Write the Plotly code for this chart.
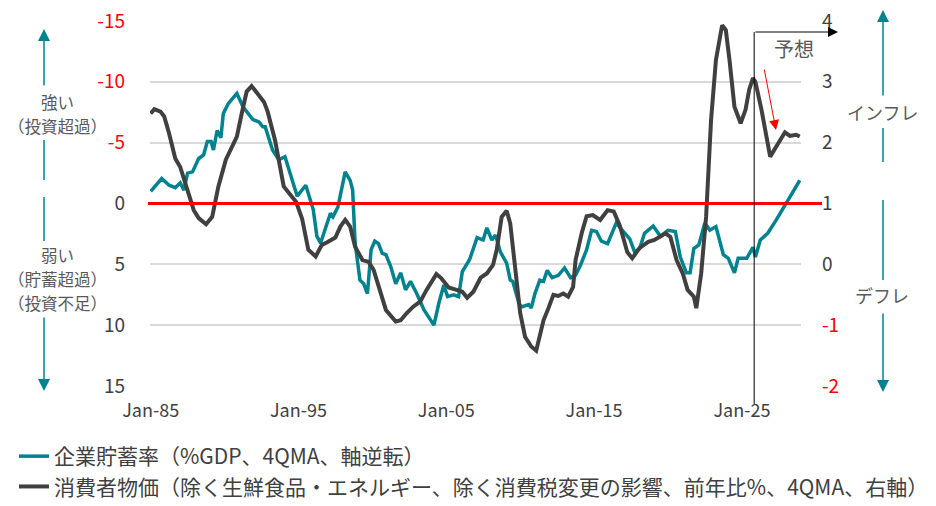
import plotly.graph_objects as go

# 企業貯蓄率（%GDP、4QMA、軸逆転） - left axis, reversed
saving_dates = [
    "1985-01", "1985-10", "1986-04", "1986-09", "1987-01", "1987-04", "1987-07", "1987-11",
    "1988-04", "1988-08", "1988-11", "1989-02", "1989-04", "1989-07", "1989-10", "1989-12",
    "1990-04", "1990-11", "1991-04", "1991-12", "1992-05", "1992-08", "1992-10", "1993-04",
    "1993-09", "1994-02", "1994-12", "1995-07", "1996-01", "1996-04", "1996-07", "1997-03",
    "1997-05", "1997-09", "1998-03", "1998-07", "1998-09", "1998-11", "1999-03", "1999-06",
    "1999-09", "1999-12", "2000-03", "2000-06", "2000-09", "2000-12", "2001-04", "2001-08",
    "2001-12", "2002-04", "2002-08", "2003-01", "2003-07", "2004-03", "2004-07", "2004-11",
    "2005-02", "2005-07", "2005-11", "2006-02", "2006-08", "2007-02", "2007-07", "2007-10",
    "2008-02", "2008-05", "2008-09", "2009-02", "2009-05", "2009-07", "2009-12", "2010-02",
    "2010-08", "2010-10", "2011-01", "2011-05", "2011-08", "2011-11", "2012-03", "2012-08",
    "2013-01", "2013-06", "2013-10", "2014-02", "2014-07", "2014-11", "2015-03", "2015-07",
    "2015-12", "2016-07", "2016-12", "2017-06", "2017-10", "2018-02", "2018-06", "2019-01",
    "2019-07", "2020-01", "2020-07", "2020-11", "2021-04", "2021-07", "2021-10", "2022-02",
    "2022-07", "2022-11", "2023-04", "2023-10", "2024-02", "2024-07", "2024-10", "2025-05",
    "2025-10", "2025-12", "2026-04", "2026-10", "2027-05", "2028-01", "2028-12",
]
saving_rate = [
    -1.0, -2.05, -1.5, -1.3, -1.7, -1.1, -2.5, -2.6,
    -3.7, -4.0, -5.1, -5.1, -4.4, -6.0, -5.4, -7.4,
    -8.2, -9.05, -7.95, -6.9, -6.7, -6.3, -6.3, -4.4,
    -3.6, -3.85, -0.6, -1.5, 0.5, 2.7, 3.25, 0.8,
    1.1, 0.3, -2.6, -1.9, -1.1, 3.25, 6.3, 6.6,
    7.4, 3.8, 3.1, 3.3, 4.1, 4.2, 5.2, 6.6,
    5.7, 7.1, 6.4, 7.4, 8.75, 10.0, 8.2, 6.7,
    7.65, 7.5, 7.65, 5.6, 4.6, 2.8, 3.0, 2.0,
    3.0, 2.6, 4.0, 4.9, 6.3, 6.4, 8.2, 8.5,
    8.3, 8.6, 7.4, 6.3, 6.4, 5.5, 6.1, 5.9,
    5.3, 6.1, 5.9, 5.05, 3.8, 2.2, 2.3, 3.1,
    3.3, 1.6, 2.2, 2.9, 4.0, 3.7, 2.45, 1.85,
    2.7, 2.2, 2.3, 4.4, 5.7, 5.7, 3.7, 3.4,
    1.6, 2.2, 1.9, 4.2, 4.5, 5.7, 4.5, 4.5,
    3.6, 4.4, 3.0, 2.45, 1.35, 0.0, -1.9,
]

# 消費者物価（除く生鮮食品・エネルギー…、前年比%、4QMA、右軸）
cpi_dates = [
    "1985-01", "1985-04", "1985-09", "1985-12", "1986-04", "1986-09", "1987-01", "1987-05",
    "1987-12", "1988-04", "1988-10", "1989-03", "1989-08", "1990-02", "1990-07", "1990-11",
    "1991-03", "1991-07", "1991-11", "1992-04", "1992-09", "1992-12", "1993-06", "1994-01",
    "1994-05", "1994-11", "1995-04", "1995-09", "1996-03", "1996-08", "1996-12", "1997-07",
    "1997-11", "1998-03", "1998-07", "1998-11", "1999-05", "1999-10", "2000-02", "2000-07",
    "2000-12", "2001-08", "2001-12", "2002-05", "2002-10", "2003-04", "2003-09", "2004-05",
    "2004-09", "2005-03", "2005-10", "2006-02", "2006-06", "2006-11", "2007-05", "2007-10",
    "2008-03", "2008-06", "2008-10", "2009-02", "2009-05", "2009-09", "2010-01", "2010-05",
    "2010-10", "2011-02", "2011-05", "2011-08", "2011-12", "2012-04", "2012-08", "2012-12",
    "2013-04", "2013-08", "2013-10", "2014-03", "2014-07", "2014-12", "2015-06", "2015-12",
    "2016-05", "2016-10", "2017-04", "2017-08", "2018-02", "2018-09", "2019-02", "2019-11",
    "2020-03", "2020-08", "2021-01", "2021-05", "2021-10", "2021-12", "2022-04", "2022-08",
    "2022-12", "2023-04", "2023-09", "2023-12", "2024-03", "2024-07", "2024-12", "2025-04",
    "2025-07", "2025-10", "2025-12", "2026-05", "2026-12", "2027-05", "2027-12", "2028-04",
    "2028-09", "2028-12",
]
cpi = [
    2.48, 2.55, 2.51, 2.43, 2.15, 1.74, 1.6, 1.33,
    0.89, 0.76, 0.66, 0.78, 1.28, 1.72, 1.93, 2.1,
    2.48, 2.84, 2.93, 2.81, 2.67, 2.51, 2.04, 1.28,
    1.19, 1.03, 0.75, 0.24, 0.13, 0.32, 0.36, 0.44,
    0.62, 0.73, 0.62, 0.29, 0.07, 0.04, -0.09, -0.42,
    -0.75, -0.94, -0.92, -0.8, -0.7, -0.61, -0.42, -0.16,
    -0.23, -0.38, -0.42, -0.45, -0.55, -0.45, -0.22, -0.15,
    -0.01, 0.24, 0.78, 0.88, 0.67, -0.04, -0.8, -1.19,
    -1.35, -1.42, -1.19, -0.92, -0.72, -0.5, -0.52, -0.48,
    -0.53, -0.37, 0.07, 0.51, 0.79, 0.81, 0.73, 0.89,
    0.87, 0.63, 0.2, 0.1, 0.27, 0.37, 0.4, 0.51,
    0.45, 0.07, -0.15, -0.42, -0.53, -0.72, -0.15, 0.78,
    2.37, 3.36, 3.93, 3.85, 3.36, 2.59, 2.32, 2.54,
    2.87, 3.06, 3.0, 2.54, 1.77, 1.93, 2.17, 2.11,
    2.13, 2.1,
]

left_ticks = [-15, -10, -5, 0, 5, 10, 15]
right_ticks = [-2, -1, 0, 1, 2, 3, 4]
x_ticks = ["1985-01-01", "1995-01-01", "2005-01-01", "2015-01-01", "2025-01-01"]
forecast_start = "2025-11-01"

TEAL = "#00838F"
DARK = "#404040"
RED = "#FF0000"
GREY_TXT = "#595959"
FONT = "Noto Sans CJK JP"

# plot area in pixels: x 150..801, y 21..386
def px(x):
    return (x - 150) / 651

def py(y):
    return (386 - y) / 365

def tick_label(v, red):
    return f"<span style='color:{RED}'>{v}</span>" if red else str(v)

fig = go.Figure()
fig.add_trace(go.Scatter(
    x=saving_dates, y=saving_rate, mode="lines", yaxis="y",
    name="企業貯蓄率（%GDP、4QMA、軸逆転）",
    line=dict(color=TEAL, width=3.5),
))
fig.add_trace(go.Scatter(
    x=cpi_dates, y=cpi, mode="lines", yaxis="y2",
    name="消費者物価（除く生鮮食品・エネルギー、除く消費税変更の影響、前年比%、4QMA、右軸）",
    line=dict(color=DARK, width=4),
))

shapes = [
    # zero line (left 0 / right 1)
    dict(type="line", xref="paper", yref="y", x0=px(148), x1=px(822), y0=0, y1=0,
         line=dict(color=RED, width=3), layer="above"),
    # forecast divider
    dict(type="line", xref="x", yref="paper", x0=forecast_start, x1=forecast_start,
         y0=py(404), y1=py(32), line=dict(color="black", width=1)),
]
# teal axis-meaning arrows (line pieces)
for x, y0, y1 in [(44, 140, 180), (44, 197, 241), (883, 128, 162), (883, 200, 280)]:
    shapes.append(dict(type="line", xref="paper", yref="paper", x0=px(x), x1=px(x),
                       y0=py(y0), y1=py(y1), line=dict(color=TEAL, width=1.5)))

annotations = []
# arrow heads with their stems
for x, head, tail in [(44, 29, 87), (44, 391, 316), (883, 10, 97), (883, 392, 312)]:
    annotations.append(dict(xref="paper", yref="paper", x=px(x), y=py(head), ax=0, ay=tail - head,
                            text="", showarrow=True, arrowhead=2, arrowsize=1.6, arrowwidth=1.5,
                            arrowcolor=TEAL))
# forecast arrow
annotations.append(dict(xref="paper", yref="paper", x=px(838), y=py(32), ax=-84, ay=0,
                        text="", showarrow=True, arrowhead=2, arrowsize=2, arrowwidth=1,
                        arrowcolor="black"))
annotations.append(dict(xref="paper", yref="paper", x=px(776), y=py(130), ax=-12, ay=-62,
                        text="", showarrow=True, arrowhead=2, arrowsize=2, arrowwidth=1,
                        arrowcolor=RED))
labels = [
    ("予想", 794, 48, 20),
    ("強い", 57, 102, 16.5),
    ("（投資超過）", 57, 126, 16.5),
    ("弱い", 57, 255, 16.5),
    ("（貯蓄超過）", 57, 279, 16.5),
    ("（投資不足）", 57, 303, 16.5),
    ("インフレ", 882, 112, 18),
    ("デフレ", 882, 295, 18),
]
for text, x, y, size in labels:
    annotations.append(dict(xref="paper", yref="paper", x=px(x), y=py(y), text=text,
                            showarrow=False, xanchor="center", yanchor="middle", borderpad=0,
                            font=dict(family=FONT, size=size, color=GREY_TXT)))

fig.update_layout(
    width=936, height=506,
    margin=dict(l=150, r=135, t=21, b=120, autoexpand=False),
    paper_bgcolor="white", plot_bgcolor="white",
    font=dict(family=FONT, size=18, color=DARK),
    xaxis=dict(
        type="date", range=["1984-12-15", "2029-01-01"],
        tickvals=x_ticks, tickformat="%b-%y", showgrid=False, zeroline=False,
        showline=False, ticks="", ticklabelstandoff=12, automargin=False,
        tickfont=dict(family=FONT, size=18, color=DARK),
    ),
    yaxis=dict(
        range=[15, -15], tickvals=left_ticks,
        ticktext=[tick_label(v, v < 0) for v in left_ticks],
        showgrid=True, gridcolor="#D9D9D9", gridwidth=1.5, zeroline=False,
        ticks="", ticklabelstandoff=24, automargin=False,
        tickfont=dict(family=FONT, size=19, color=DARK),
    ),
    yaxis2=dict(
        range=[-2, 4], overlaying="y", side="right", tickvals=right_ticks,
        ticktext=[tick_label(v, v < 0) for v in right_ticks],
        showgrid=False, zeroline=False, ticks="", ticklabelstandoff=20, automargin=False,
        tickfont=dict(family=FONT, size=19, color=DARK),
    ),
    legend=dict(
        x=px(14), y=py(436), xanchor="left", yanchor="top",
        font=dict(family=FONT, size=21, color=DARK),
        bgcolor="rgba(0,0,0,0)", tracegroupgap=0, itemwidth=30,
    ),
    showlegend=True,
    shapes=shapes,
    annotations=annotations,
)

fig.write_html("out.html", config={"displayModeBar": False},
               post_script="document.body.style.margin='0';")
